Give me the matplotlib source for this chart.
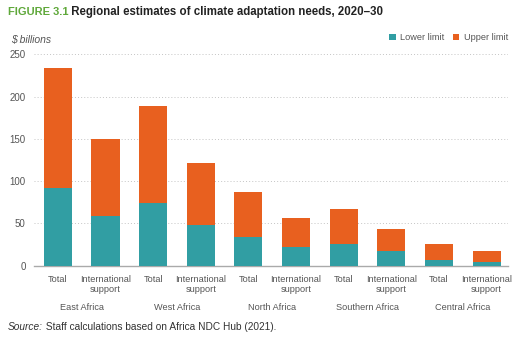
import matplotlib
matplotlib.use("Agg")
import matplotlib.pyplot as plt
from matplotlib.transforms import blended_transform_factory
import numpy as np

plt.rcParams['font.family'] = ['Liberation Sans', 'DejaVu Sans']

regions = ["East Africa", "West Africa", "North Africa", "Southern Africa", "Central Africa"]
sub_labels = ["Total", "International\nsupport"]
lower = [92, 59, 74, 48, 34, 22, 26, 17, 7, 4.5]
upper = [234, 150, 189, 121, 87, 56, 67, 43.5, 25.5, 17]
yticks = [0, 50, 100, 150, 200, 250]

teal = "#319EA3"
orange = "#E8601F"
gray_txt = "#555555"

fig = plt.figure(figsize=(5.26, 3.52), dpi=100)
W, H = 526, 352
ax = fig.add_axes([34 / W, (H - 265.7) / H, 474 / W, 215.5 / H])

x = np.arange(len(upper))
ax.bar(x, upper, width=0.59, color=orange, label="Upper limit", zorder=3)
ax.bar(x, lower, width=0.59, color=teal, label="Lower limit", zorder=4)

ax.set_xlim(-0.5, 9.45)
ax.set_ylim(0, 255)
ax.set_yticks(yticks)
ax.set_yticklabels([str(v) for v in yticks])
for v in yticks[1:]:
    ax.axhline(v, color="#c4c4c4", lw=0.7, ls=(0, (1, 2.2)), zorder=1)

for s in ["top", "right", "left"]:
    ax.spines[s].set_visible(False)
ax.spines["bottom"].set_color("#aaaaaa")
ax.spines["bottom"].set_linewidth(1.0)

ax.set_xticks(x)
ax.set_xticklabels(sub_labels * len(regions), fontsize=6.6, color=gray_txt, linespacing=1.05, va="top")
ax.tick_params(axis="x", length=0, pad=7)
ax.tick_params(axis="y", length=0, pad=6, labelsize=7, labelcolor=gray_txt)

trans = blended_transform_factory(ax.transData, fig.transFigure)
for i, r in enumerate(regions):
    ax.text(2 * i + 0.5, 1 - 307 / H, r, transform=trans, ha="center", va="center",
            fontsize=6.6, color=gray_txt)

# legend
h1, l1 = ax.get_legend_handles_labels()
leg = fig.legend([h1[1], h1[0]], [l1[1], l1[0]], loc="center right",
                 bbox_to_anchor=(508 / W, 1 - 37.5 / H), ncol=2, frameon=False,
                 fontsize=6.6, handlelength=0.7, handleheight=0.7, handletextpad=0.5,
                 columnspacing=0.9, borderaxespad=0, borderpad=0)
for t in leg.get_texts():
    t.set_color(gray_txt)

# y unit label
fig.text(11 / W, 1 - 40 / H, "$ billions", fontsize=7.5, style="italic", color=gray_txt,
         ha="left", va="center")

# title
t1 = fig.text(8 / W, 1 - 12 / H, "FIGURE 3.1", fontsize=8, fontweight="bold",
              color="#5FA83A", ha="left", va="center")
fig.canvas.draw()
ax.annotate(" Regional estimates of climate adaptation needs, 2020\u201330",
            xy=(1, 0.5), xycoords=t1, ha="left", va="center", fontsize=8.3,
            fontweight="bold", color="#222222", annotation_clip=False)

# source
s1 = fig.text(8 / W, 1 - 327 / H, "Source:", fontsize=7.3, style="italic",
              color="#333333", ha="left", va="center")
ax.annotate(" Staff calculations based on Africa NDC Hub (2021).", xy=(1, 0.5),
            xycoords=s1, ha="left", va="center", fontsize=7.3, color="#333333",
            annotation_clip=False)

fig.savefig("out.png", dpi=100)
